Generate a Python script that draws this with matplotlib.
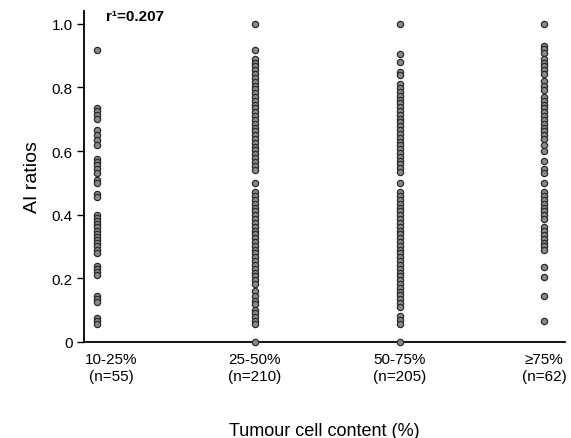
import matplotlib.pyplot as plt
import matplotlib.transforms as mtransforms

plt.rcParams['font.family'] = ['Liberation Sans', 'DejaVu Sans']

categories = ["10-25%\n(n=55)", "25-50%\n(n=210)", "50-75%\n(n=205)", "≥75%\n(n=62)"]

# AI ratios (overlapping points only listed once)
grp_10_25 = [0.917, 0.735, 0.725, 0.715, 0.70, 0.665, 0.65, 0.635, 0.62, 0.575, 0.565,
             0.555, 0.545, 0.53, 0.51, 0.50, 0.465, 0.455, 0.40, 0.39, 0.38, 0.37, 0.36,
             0.35, 0.34, 0.33, 0.32, 0.31, 0.30, 0.29, 0.28, 0.24, 0.23, 0.22, 0.21,
             0.145, 0.135, 0.125, 0.075, 0.065, 0.057]
grp_25_50 = [1.0, 0.918, 0.89, 0.878, 0.866, 0.854, 0.842, 0.83, 0.818, 0.806, 0.794,
             0.782, 0.77, 0.758, 0.746, 0.734, 0.722, 0.71, 0.698, 0.686, 0.674, 0.662,
             0.65, 0.638, 0.626, 0.614, 0.602, 0.59, 0.578, 0.566, 0.554, 0.542, 0.50,
             0.47, 0.458, 0.446, 0.434, 0.422, 0.41, 0.398, 0.386, 0.374, 0.362, 0.35,
             0.338, 0.326, 0.314, 0.302, 0.29, 0.278, 0.266, 0.254, 0.242, 0.23, 0.218,
             0.206, 0.194, 0.182, 0.16, 0.145, 0.13, 0.12, 0.10, 0.09, 0.078, 0.065,
             0.057, 0.0]
grp_50_75 = [1.0, 0.905, 0.88, 0.85, 0.84, 0.81, 0.798, 0.786, 0.774, 0.762, 0.75,
             0.738, 0.726, 0.714, 0.702, 0.69, 0.678, 0.666, 0.654, 0.642, 0.63, 0.618,
             0.606, 0.594, 0.582, 0.57, 0.558, 0.546, 0.535, 0.50, 0.47, 0.458, 0.446,
             0.434, 0.422, 0.41, 0.398, 0.386, 0.374, 0.362, 0.35, 0.338, 0.326, 0.314,
             0.302, 0.29, 0.278, 0.266, 0.254, 0.242, 0.23, 0.218, 0.206, 0.194, 0.182,
             0.17, 0.158, 0.146, 0.134, 0.122, 0.11, 0.08, 0.068, 0.057, 0.0]
grp_75 = [1.0, 0.93, 0.92, 0.91, 0.89, 0.878, 0.866, 0.854, 0.842, 0.82, 0.806, 0.792,
          0.77, 0.758, 0.746, 0.734, 0.722, 0.71, 0.698, 0.686, 0.674, 0.662, 0.65,
          0.638, 0.62, 0.60, 0.57, 0.545, 0.53, 0.50, 0.47, 0.458, 0.446, 0.434, 0.422,
          0.41, 0.398, 0.386, 0.36, 0.348, 0.336, 0.324, 0.312, 0.30, 0.288, 0.235,
          0.205, 0.145, 0.066]

groups = [grp_10_25, grp_25_50, grp_50_75, grp_75]
xpos = [0, 1.06, 2.03, 3.0]

fig = plt.figure(figsize=(5.71, 4.39), dpi=100)
ax = fig.add_axes([0.147, 0.219, 0.843, 0.754])

for x, vals in zip(xpos, groups):
    ax.plot([x] * len(vals), vals, linestyle='none', marker='o', markersize=4.5,
            markerfacecolor='#8a8a8a', markeredgecolor='#2b2b2b', markeredgewidth=0.9,
            clip_on=False, zorder=3)

ax.set_xlim(-0.087, 3.141)
ax.set_ylim(0, 1.041)
ax.set_yticks([0, 0.2, 0.4, 0.6, 0.8, 1.0])
ax.set_yticklabels(["0", "0.2", "0.4", "0.6", "0.8", "1.0"], fontsize=11)
ax.set_xticks(xpos)
ax.set_xticklabels(categories, fontsize=11, linespacing=1.35)
ax.tick_params(axis='x', length=0, pad=7)
ax.tick_params(axis='y', length=5, width=1, direction='out', pad=3)

# first label sits a little right of its column
lbl0 = ax.get_xticklabels()[0]
lbl0.set_transform(lbl0.get_transform() + mtransforms.ScaledTranslation(0.14, 0, fig.dpi_scale_trans))

for s in ['top', 'right']:
    ax.spines[s].set_visible(False)
ax.spines['left'].set_linewidth(1.3)
ax.spines['bottom'].set_linewidth(1.3)

ax.set_ylabel("AI ratios", fontsize=14, labelpad=8)
ax.set_xlabel("Tumour cell content (%)", fontsize=13, labelpad=28)

ax.text(0.045, 0.985, "r¹=0.207", transform=ax.transAxes, fontsize=11,
        fontweight='bold', va='center', ha='left')

fig.savefig("out.png", dpi=100)
